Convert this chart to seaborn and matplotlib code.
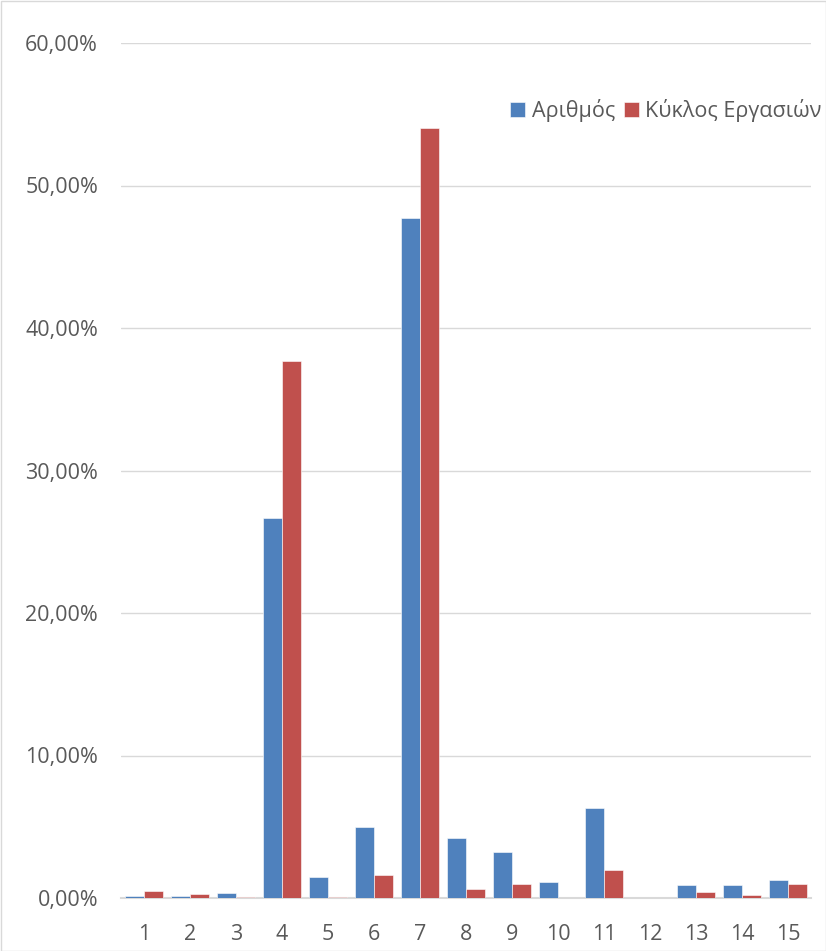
import matplotlib
matplotlib.use("Agg")
import matplotlib.pyplot as plt
import seaborn as sns
import pandas as pd
from matplotlib.ticker import FuncFormatter, MultipleLocator
from matplotlib.patches import Rectangle

categories = [str(i) for i in range(1, 16)]
arithmos = [0.16, 0.16, 0.35, 26.7, 1.50, 4.96, 47.7, 4.21, 3.23, 1.12, 6.29, 0.0, 0.91, 0.91, 1.29]
kyklos = [0.51, 0.30, 0.07, 37.7, 0.07, 1.64, 54.05, 0.66, 0.96, 0.0, 1.96, 0.0, 0.40, 0.21, 0.98]
series_names = ["Αριθμός", "Κύκλος Εργασιών"]
colors = ["#4F81BD", "#C0504D"]

df = pd.DataFrame({
    "cat": categories * 2,
    "val": arithmos + kyklos,
    "series": [series_names[0]] * 15 + [series_names[1]] * 15,
})

sns.set_theme(style="white")
plt.rcParams['font.family'] = ['Open Sans', 'DejaVu Sans']

fig = plt.figure(figsize=(8.26, 9.51), dpi=100)
ax = fig.add_axes([121/826, 53/951, (811-121)/826, (898-43)/951])

sns.barplot(data=df, x="cat", y="val", hue="series", palette=colors,
            order=categories, hue_order=series_names, ax=ax,
            edgecolor="white", linewidth=0.4, width=0.82, saturation=1)
for p in ax.patches:
    p.set_zorder(3)

ax.set_ylim(0, 60)
ax.set_xlim(-0.5, 14.5)
ax.yaxis.set_major_locator(MultipleLocator(10))
ax.yaxis.set_major_formatter(FuncFormatter(lambda v, p: f"{v:.2f}".replace(".", ",") + "%"))
ax.grid(axis="y", color="#D9D9D9", linewidth=1)
ax.set_axisbelow(True)
for s in ["top", "right", "left"]:
    ax.spines[s].set_visible(False)
ax.spines["bottom"].set_color("#D9D9D9")
ax.spines["bottom"].set_linewidth(1.5)
ax.spines["bottom"].set_zorder(2)
ax.tick_params(axis="both", length=0, labelsize=15.5, labelcolor="#595959")
ax.tick_params(axis="y", pad=16.5)
ax.tick_params(axis="x", pad=19)
ax.set_xlabel("")
ax.set_ylabel("")

leg = ax.legend(loc="upper right", bbox_to_anchor=(1.028, 0.945), ncol=2, frameon=False,
                fontsize=15.5, handlelength=0.7, handleheight=0.7, handletextpad=0.3,
                columnspacing=0.4, borderaxespad=0)
for t in leg.get_texts():
    t.set_color("#595959")

fig.patches.append(Rectangle((0.5/826, 0.5/951), 1 - 1/826, 1 - 1/951, transform=fig.transFigure,
                             fill=False, edgecolor="#D9D9D9", linewidth=1))

fig.savefig("out.png", dpi=100)
